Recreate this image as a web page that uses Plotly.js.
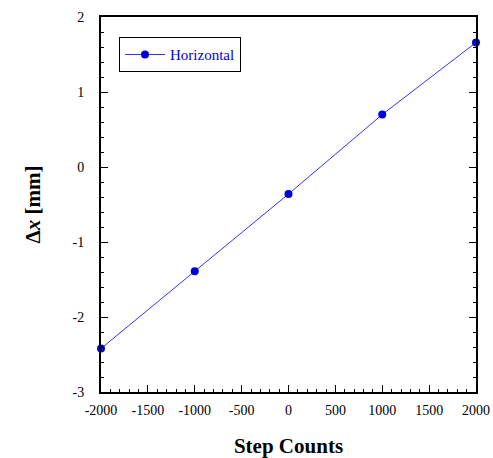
<!DOCTYPE html>
<html>
<head>
<meta charset="utf-8">
<script src="https://cdn.plot.ly/plotly-3.0.1.min.js"></script>
<style>html,body{margin:0;padding:0;background:#fff;}#chart{width:493px;height:458px;}</style>
</head>
<body>
<div id="chart"></div>
<script>
const stepCounts = [-2000, -1000, 0, 1000, 2000];
const deltaX = [-2.42, -1.39, -0.36, 0.70, 1.66];
const seriesName = 'Horizontal';
const xTickVals = [-2000, -1500, -1000, -500, 0, 500, 1000, 1500, 2000];
const xTickText = ['-2000', '-1500', '-1000', '-500', '0', '500', '1000', '1500', '2000'];
const yTickVals = [-3, -2, -1, 0, 1, 2];
const yTickText = ['-3', '-2', '-1', '0', '1', '2'];

const font = 'Liberation Serif, Times New Roman, serif';
const data = [{
  x: stepCounts,
  y: deltaX,
  name: seriesName,
  type: 'scatter',
  mode: 'lines+markers',
  cliponaxis: false,
  line: {color: '#3333ff', width: 1},
  marker: {color: '#0000dd', size: 8}
}];

const layout = {
  width: 493, height: 458,
  margin: {l: 101, r: 17, t: 17, b: 66},
  paper_bgcolor: '#fff', plot_bgcolor: '#fff',
  font: {family: font, color: '#000', size: 14},
  showlegend: true,
  legend: {
    x: 0.048, y: 0.946, xanchor: 'left', yanchor: 'top',
    bordercolor: '#000', borderwidth: 1, bgcolor: '#fff',
    itemwidth: 40,
    font: {family: font, size: 15, color: '#0000dd'}
  },
  xaxis: {
    range: [-2000, 2000],
    tickmode: 'array', tickvals: xTickVals, ticktext: xTickText,
    showgrid: false, zeroline: false,
    showline: true, linecolor: '#000', linewidth: 2, mirror: true,
    ticks: 'inside', ticklen: 7, tickwidth: 1, tickcolor: '#000',
    ticklabelstandoff: 4,
    minor: {dtick: 100, tick0: 0, ticks: 'inside', ticklen: 3, tickwidth: 1, tickcolor: '#000', showgrid: false},
    tickfont: {family: font, size: 14},
    title: {text: '<b>Step Counts</b>', font: {family: font, size: 21}, standoff: 22}
  },
  yaxis: {
    range: [-3, 2],
    tickmode: 'array', tickvals: yTickVals, ticktext: yTickText,
    showgrid: false, zeroline: false,
    showline: true, linecolor: '#000', linewidth: 2, mirror: 'ticks',
    ticks: 'inside', ticklen: 7, tickwidth: 1, tickcolor: '#000',
    ticklabelstandoff: 12,
    minor: {dtick: 0.2, tick0: 0, ticks: 'inside', ticklen: 3, tickwidth: 1, tickcolor: '#000', showgrid: false},
    tickfont: {family: font, size: 14},
    title: {text: '<b>Δ<i>x</i> [mm]</b>', font: {family: font, size: 21}, standoff: 26}
  }
};

Plotly.newPlot('chart', data, layout, {staticPlot: true, displayModeBar: false});
</script>
</body>
</html>
